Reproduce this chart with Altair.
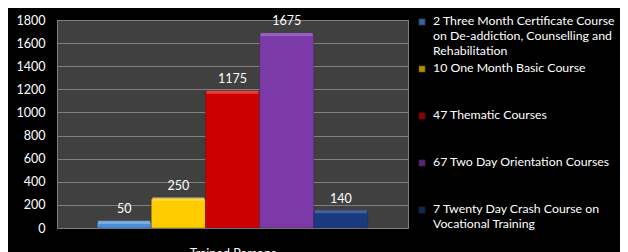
import altair as alt
import pandas as pd

courses = [
    "2 Three Month Certificate Course|on De-addiction, Counselling and|Rehabilitation",
    "10 One Month Basic Course",
    "47 Thematic Courses",
    "67 Two Day Orientation Courses",
    "7 Twenty Day Crash Course on|Vocational Training",
]
trained = [50, 250, 1175, 1675, 140]
y_ticks = [0, 200, 400, 600, 800, 1000, 1200, 1400, 1600, 1800]
colors = ["#4a8fdc", "#ffcc00", "#cc0000", "#7b3aa8", "#1a3a80"]
top_colors = ["#8cc0f5", "#ffe566", "#ff4a4a", "#a66ad6", "#4a6ab8"]

df = pd.DataFrame({"course": courses, "trained": trained})

FONT = "Lato"

xscale = alt.Scale(domain=courses, paddingInner=0, paddingOuter=0.74)
color = alt.Color("course:N", scale=alt.Scale(domain=courses, range=colors), legend=None)
topcolor = alt.Color("course:N", scale=alt.Scale(domain=courses, range=top_colors), legend=None)

X = alt.X("course:N", scale=xscale, sort=courses,
          axis=alt.Axis(labels=False, ticks=False, domain=False, title="Trained Persons",
                        titleColor="white", titleFont=FONT, titleFontSize=12.5,
                        titleFontWeight="normal", titlePadding=19))
Y = alt.Y("trained:Q", scale=alt.Scale(domain=[0, 1800], nice=False),
          axis=alt.Axis(values=y_ticks, format="d", labelOverlap=False,
                        title=None, ticks=False,
                        domain=False, labelColor="white", labelFont=FONT,
                        labelFontSize=12.5, labelPadding=12, gridColor="#808080",
                        gridWidth=1))

base = alt.Chart(df)

bars = base.mark_bar(stroke="#222222", strokeWidth=0.5, strokeOpacity=0.6).encode(
    x=X, y=Y, color=color,
)

tops = base.mark_tick(thickness=3, size=52, opacity=0.8).encode(
    x=X, y=Y, color=topcolor,
)

labels = base.mark_text(baseline="bottom", dy=-6, color="white", font=FONT, fontSize=12.5).encode(
    x=X, y=Y, text=alt.Text("trained:Q"),
)

ly = alt.Y("course:N", sort=courses,
           scale=alt.Scale(domain=courses, range=[2, 190], padding=0), axis=None)

leg_sym = base.mark_square(size=42, stroke="#222222", strokeWidth=0.5).encode(
    x=alt.value(365), y=ly, color=color,
)
leg_txt = base.mark_text(align="left", baseline="top", dy=-7.5, lineBreak="|", lineHeight=15,
                         color="white", font=FONT, fontSize=12.3).encode(
    x=alt.value(376), y=ly, text="course:N",
)

main = alt.layer(bars, tops, labels).resolve_scale(color="independent")
legend = alt.layer(leg_sym, leg_txt)

chart = alt.layer(main, legend).resolve_scale(
    y="independent", color="independent"
).properties(
    width=351, height=208, background="black",
    autosize=alt.AutoSizeParams(type="none"),
    padding={"top": 12, "left": 49, "right": 212, "bottom": 32},
).configure_view(fill="#404040", stroke="#808080", strokeWidth=1)

chart.save("out.html", embed_options={"renderer": "svg", "actions": False})
